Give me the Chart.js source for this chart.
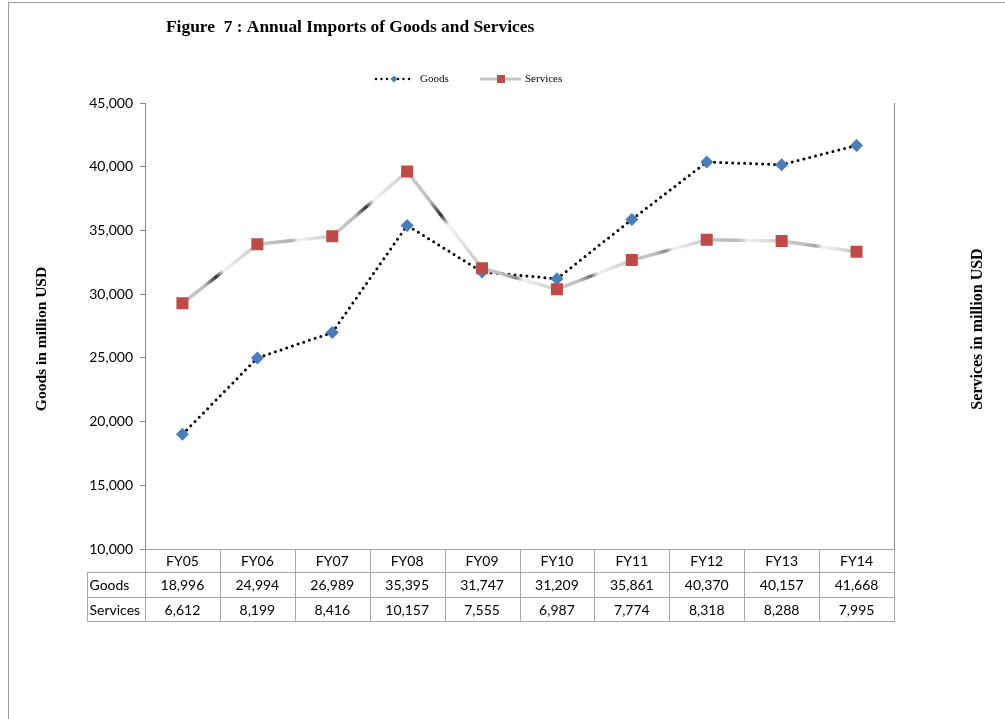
<!DOCTYPE html>
<html>
<head>
<meta charset="utf-8">
<script src="https://cdn.jsdelivr.net/npm/chart.js@4.4.1/dist/chart.umd.min.js"></script>
<style>
  html, body { margin: 0; padding: 0; background: #fff; }
  #wrap { position: relative; width: 1005px; height: 719px; }
</style>
</head>
<body>
<div id="wrap"><canvas id="importsChart" width="1005" height="719"></canvas></div>
<script>
// Annual imports, million USD
const categories = ["FY05", "FY06", "FY07", "FY08", "FY09", "FY10", "FY11", "FY12", "FY13", "FY14"];
const goods = [18996, 24994, 26989, 35395, 31747, 31209, 35861, 40370, 40157, 41668];
const services = [6612, 8199, 8416, 10157, 7555, 6987, 7774, 8318, 8288, 7995];
const seriesNames = ["Goods", "Services"];
const titleText = "Figure  7 : Annual Imports of Goods and Services";
const leftAxisTitle = "Goods in million USD";
const rightAxisTitle = "Services in million USD";

const TABLE_FONT = "14px Lato, 'Open Sans', sans-serif";
const GRID_GRAY = "#a6a6a6";

// Gradient along a segment, imitating the shaded grey line of the original
function segmentGradient(ctx) {
  const p0 = ctx.p0, p1 = ctx.p1;
  const chart = ctx.chart;
  const g = chart.ctx.createLinearGradient(p0.x, p0.y, p1.x, p1.y);
  const dx = p1.x - p0.x, dy = p1.y - p0.y;
  const steep = Math.min(1, Math.abs(dy) / Math.sqrt(dx * dx + dy * dy) * 1.6);
  const dark = Math.round(200 - 150 * steep);
  const darkCol = `rgb(${dark},${dark},${dark})`;
  g.addColorStop(0, "#c8c8c8");
  g.addColorStop(0.3, "#bdbdbd");
  g.addColorStop(0.45, darkCol);
  g.addColorStop(0.55, "#f2f2f2");
  g.addColorStop(1, "#c8c8c8");
  return g;
}

// Draws title, legend, axis titles, the data table and the page frame
const decorations = {
  id: "decorations",
  afterDraw(chart) {
    const ctx = chart.ctx;
    const x = chart.scales.x;
    const area = chart.chartArea;
    ctx.save();

    // page frame
    ctx.strokeStyle = "#9a9a9a";
    ctx.lineWidth = 1;
    ctx.beginPath();
    ctx.moveTo(8.5, 719);
    ctx.lineTo(8.5, 2.5);
    ctx.lineTo(1005, 2.5);
    ctx.stroke();

    // title
    ctx.fillStyle = "#000";
    ctx.font = "bold 17.4px 'Liberation Serif', 'DejaVu Serif', serif";
    ctx.textAlign = "left";
    ctx.textBaseline = "middle";
    ctx.fillText(titleText, 166, 28);

    // legend
    ctx.font = "11px 'Liberation Serif', serif";
    // Goods sample
    ctx.strokeStyle = "#000";
    ctx.lineWidth = 2.5;
    ctx.lineCap = "round";
    ctx.setLineDash([0, 5.5]);
    ctx.beginPath();
    ctx.moveTo(376, 79);
    ctx.lineTo(411, 79);
    ctx.stroke();
    ctx.setLineDash([]);
    ctx.fillStyle = "#4a7ebb";
    ctx.beginPath();
    ctx.moveTo(394, 75.5);
    ctx.lineTo(397.5, 79);
    ctx.lineTo(394, 82.5);
    ctx.lineTo(390.5, 79);
    ctx.closePath();
    ctx.fill();
    ctx.fillStyle = "#000";
    ctx.fillText(seriesNames[0], 420, 79);
    // Services sample
    ctx.strokeStyle = "#c4c4c4";
    ctx.lineWidth = 3;
    ctx.lineCap = "butt";
    ctx.beginPath();
    ctx.moveTo(480, 79);
    ctx.lineTo(521, 79);
    ctx.stroke();
    ctx.fillStyle = "#be4b48";
    ctx.fillRect(497, 75, 8, 8);
    ctx.fillStyle = "#000";
    ctx.fillText(seriesNames[1], 525, 79);

    // axis titles
    ctx.textAlign = "center";
    ctx.font = "bold 15.5px 'Liberation Serif', 'DejaVu Serif', serif";
    ctx.save();
    ctx.translate(42, 339);
    ctx.rotate(-Math.PI / 2);
    ctx.fillText(leftAxisTitle, 0, 0);
    ctx.restore();
    ctx.font = "bold 16px 'Liberation Serif', 'DejaVu Serif', serif";
    ctx.save();
    ctx.translate(978, 329);
    ctx.rotate(-Math.PI / 2);
    ctx.fillText(rightAxisTitle, 0, 0);
    ctx.restore();

    // data table
    const top = area.bottom;
    const rows = [top, top + 23, top + 48, top + 72];
    const labelLeft = 87.5;
    const left = area.left;
    const right = area.right;
    const colW = (right - left) / categories.length;
    ctx.strokeStyle = GRID_GRAY;
    ctx.lineWidth = 1;
    ctx.beginPath();
    ctx.moveTo(left, rows[0] + 0.5);
    ctx.lineTo(right, rows[0] + 0.5);
    for (let r = 1; r < rows.length; r++) {
      ctx.moveTo(labelLeft, rows[r] + 0.5);
      ctx.lineTo(right, rows[r] + 0.5);
    }
    ctx.moveTo(labelLeft, rows[1]);
    ctx.lineTo(labelLeft, rows[3] + 1);
    for (let i = 0; i <= categories.length; i++) {
      const cx = Math.round(left + i * colW) + 0.5;
      ctx.moveTo(cx, rows[0]);
      ctx.lineTo(cx, rows[3] + 1);
    }
    ctx.stroke();

    ctx.font = TABLE_FONT;
    ctx.fillStyle = "#000";
    ctx.textBaseline = "middle";
    const fmt = (v) => v.toLocaleString("en-US");
    categories.forEach((c, i) => {
      const cx = x.getPixelForValue(i);
      ctx.textAlign = "center";
      ctx.fillText(c, cx, (rows[0] + rows[1]) / 2 + 1);
      ctx.fillText(fmt(goods[i]), cx, (rows[1] + rows[2]) / 2 + 1);
      ctx.fillText(fmt(services[i]), cx, (rows[2] + rows[3]) / 2 + 1);
    });
    ctx.textAlign = "left";
    ctx.fillText(seriesNames[0], labelLeft + 2, (rows[1] + rows[2]) / 2 + 1);
    ctx.fillText(seriesNames[1], labelLeft + 2, (rows[2] + rows[3]) / 2 + 1);

    ctx.restore();
  }
};

new Chart(document.getElementById("importsChart"), {
  type: "line",
  data: {
    labels: categories,
    datasets: [
      {
        label: seriesNames[1],
        data: services,
        yAxisID: "y2",
        borderColor: "#c8c8c8",
        borderWidth: 3.5,
        segment: { borderColor: segmentGradient },
        pointStyle: "rect",
        pointRadius: 8.5,
        pointBackgroundColor: "#be4b48",
        pointBorderColor: "#c0504d",
        pointBorderWidth: 0,
        tension: 0
      },
      {
        label: seriesNames[0],
        data: goods,
        yAxisID: "y",
        borderColor: "#000",
        borderWidth: 3,
        borderDash: [0, 6],
        borderCapStyle: "round",
        pointStyle: "rectRot",
        pointRadius: 6.5,
        pointBackgroundColor: "#4a7ebb",
        pointBorderWidth: 0,
        tension: 0
      }
    ]
  },
  options: {
    responsive: false,
    animation: false,
    events: [],
    layout: { padding: { top: 103, left: 0, right: 0, bottom: 0 } },
    plugins: {
      legend: { display: false },
      title: { display: false },
      tooltip: { enabled: false }
    },
    scales: {
      x: {
        offset: true,
        grid: { display: false },
        border: { display: false },
        ticks: { display: false },
        afterFit(scale) { scale.height = 719 - 549; }
      },
      y: {
        position: "left",
        min: 10000,
        max: 45000,
        ticks: {
          stepSize: 5000,
          color: "#000",
          padding: 7,
          font: { family: "Lato, 'Open Sans', sans-serif", size: 14 },
          callback: (v) => v.toLocaleString("en-US")
        },
        grid: { drawOnChartArea: false, tickLength: 5, color: "#868686" },
        border: { color: "#868686" },
        afterFit(scale) { scale.width = 145; }
      },
      y2: {
        position: "right",
        min: 0,
        max: 12000,
        ticks: { display: false },
        grid: { display: false },
        border: { color: "#868686" },
        afterFit(scale) { scale.width = 1005 - 894; }
      }
    }
  },
  plugins: [decorations]
});
</script>
</body>
</html>
